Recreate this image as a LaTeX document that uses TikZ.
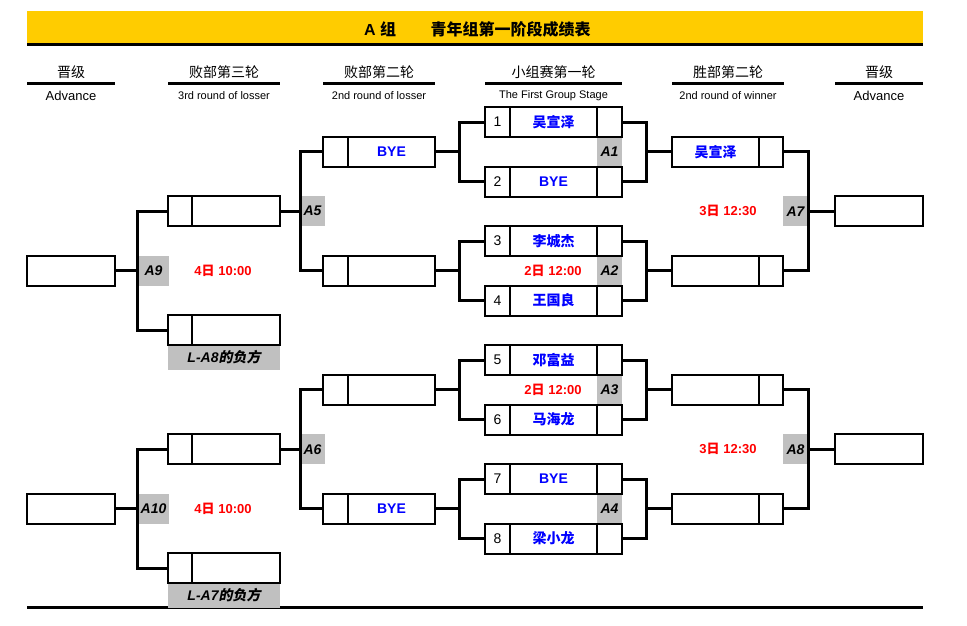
\documentclass[tikz,border=0pt]{standalone}
\usepackage{fontspec}
\setmainfont{Liberation Sans}
\newfontfamily\cjk{Noto Sans CJK SC}
\newfontfamily\cjkslant[FakeSlant=0.2]{Noto Sans CJK SC}
\usetikzlibrary{positioning}
\definecolor{bracketyellow}{RGB}{255, 204, 0}
\definecolor{bracketgray}{RGB}{192, 192, 192}
\definecolor{bracketblue}{RGB}{0, 0, 255}
\definecolor{bracketred}{RGB}{255, 0, 0}
\newcommand{\zh}[1]{{\cjk #1}}

\tikzset{
  cell/.style={draw, line width=2pt, minimum height=30pt, inner sep=0pt, outer sep=0pt, anchor=west, font=\fontsize{14}{14}\selectfont},
  numcell/.style={cell, minimum width=25pt},
  namecell/.style={cell, minimum width=87pt, text=bracketblue, font=\bfseries\fontsize{14}{14}\selectfont},
  endcell/.style={cell, minimum width=25pt},
  advbox/.style={cell, minimum width=88pt},
  tag/.style={fill=bracketgray, minimum width=25pt, minimum height=30pt, inner sep=0pt, font=\bfseries\itshape\fontsize{14}{14}\selectfont},
  wire/.style={line width=3pt},
  when/.style={text=bracketred, font=\bfseries\fontsize{13}{13}\selectfont},
  colhead/.style={font=\cjk\fontsize{14}{14}\selectfont},
  colsub/.style={font=\fontsize{11}{11}\selectfont},
  headrule/.style={line width=3pt}
}

\begin{document}
\begin{tikzpicture}[x=1pt, y=-1pt]
\useasboundingbox (0,0) rectangle (967,626);

\node[fill=bracketyellow, minimum width=896pt, minimum height=34pt, inner sep=0pt, outer sep=0pt, anchor=north west] (banner) at (27,11) {};
\draw[headrule] (banner.south west) -- (banner.south east);
\node[font=\bfseries\fontsize{16}{16}\selectfont] (titlegroup) at (380,29) {A \zh{组}};
\node[font=\bfseries\fontsize{16}{16}\selectfont] (titlename) at (510.5,29) {\zh{青年组第一阶段成绩表}};

\foreach \l/\r/\cn/\en/\sz in {27/115/晋级/Advance/13, 168/280/败部第三轮/3rd round of losser/11, 323/435/败部第二轮/2nd round of losser/11, 485/622/小组赛第一轮/The First Group Stage/11, 672/784/胜部第二轮/2nd round of winner/11, 835/923/晋级/Advance/13} {
  \node[colhead] at ({(\l+\r)/2}, 72) {\cn};
  \draw[headrule] (\l,83.5) -- (\r,83.5);
  \node[font=\fontsize{\sz}{\sz}\selectfont] at ({(\l+\r)/2}, 96) {\en};
}
\draw[headrule] (27,607) -- (923,607);

\foreach \m in {1,2,3,4}
  \node[tag] (a\m) at (609.5, {151.75+119*(\m-1)}) {A\m};
\node[tag] (a5) at (312.5,211.25) {A5};
\node[tag] (a6) at (312.5,449.25) {A6};
\node[tag] (a7) at (795.5,211.25) {A7};
\node[tag] (a8) at (795.5,449.25) {A8};
\node[tag, minimum width=31pt] (a9) at (153.5,270.75) {A9};
\node[tag, minimum width=31pt] (a10) at (153.5,508.75) {A10};
\node[tag, minimum width=112pt, minimum height=24pt] (loseA8) at (224,357.5) {L-A8{\upshape\cjkslant 的负方}};
\node[tag, minimum width=112pt, minimum height=24pt] (loseA7) at (224,595.5) {L-A7{\upshape\cjkslant 的负方}};

\foreach \i/\who in {1/\zh{吴宣泽}, 2/BYE, 3/\zh{李城杰}, 4/\zh{王国良}, 5/\zh{邓富益}, 6/\zh{马海龙}, 7/BYE, 8/\zh{梁小龙}} {
  \node[numcell] (n\i) at (485, {122+59.5*(\i-1)}) {\i};
  \node[namecell, right=0pt of n\i] (p\i) {\who};
  \node[endcell, right=0pt of p\i] (e\i) {};
}

\foreach \i/\who in {1/BYE, 2/{}, 3/{}, 4/BYE} {
  \node[endcell] (ls\i) at (323, {151.75+119*(\i-1)}) {};
  \node[namecell, right=0pt of ls\i] (lp\i) {\who};
}

\foreach \i/\who in {1/\zh{吴宣泽}, 2/{}, 3/{}, 4/{}} {
  \node[namecell] (wp\i) at (672, {151.75+119*(\i-1)}) {\who};
  \node[endcell, minimum width=24pt, right=0pt of wp\i] (ws\i) {};
}

\foreach \i in {1,2,3,4} {
  \node[endcell, minimum width=24pt] (ks\i) at (168, {211.25+119*(\i-1)}) {};
  \node[namecell, minimum width=88pt, right=0pt of ks\i] (kp\i) {};
}

\node[advbox] (la1) at (27,270.75) {};
\node[advbox] (la2) at (27,508.75) {};
\node[advbox] (ra1) at (835,211.25) {};
\node[advbox] (ra2) at (835,449.25) {};

\foreach \m/\top/\bot in {1/1/2, 2/3/4, 3/5/6, 4/7/8} {
  \draw[wire] (e\top.east) -- ++(24,0) |- (wp\m.west);
  \draw[wire] (e\bot.east) -- ++(24,0) |- (wp\m.west);
  \draw[wire] (n\top.west) -- ++(-26,0) |- (lp\m.east);
  \draw[wire] (n\bot.west) -- ++(-26,0) |- (lp\m.east);
}
\foreach \j/\top/\bot in {1/1/2, 2/3/4} {
  \draw[wire] (ws\top.east) -- ++(25,0) |- (ra\j.west);
  \draw[wire] (ws\bot.east) -- ++(25,0) |- (ra\j.west);
  \draw[wire] (ks\top.west) -- ++(-31,0) |- (la\j.east);
  \draw[wire] (ks\bot.west) -- ++(-31,0) |- (la\j.east);
}
\draw[wire] (ls1.west) -- ++(-23,0) |- (kp1.east);
\draw[wire] (ls2.west) -- ++(-23,0) |- (kp1.east);
\draw[wire] (ls3.west) -- ++(-23,0) |- (kp3.east);
\draw[wire] (ls4.west) -- ++(-23,0) |- (kp3.east);

\node[when] (day2a) at (553,270.75) {2\zh{日} 12:00};
\node[when] (day2b) at (553,389.75) {2\zh{日} 12:00};
\node[when] (day3a) at (728,211.25) {3\zh{日} 12:30};
\node[when] (day3b) at (728,449.25) {3\zh{日} 12:30};
\node[when] (day4a) at (223,270.75) {4\zh{日} 10:00};
\node[when] (day4b) at (223,508.75) {4\zh{日} 10:00};
\end{tikzpicture}
\end{document}
